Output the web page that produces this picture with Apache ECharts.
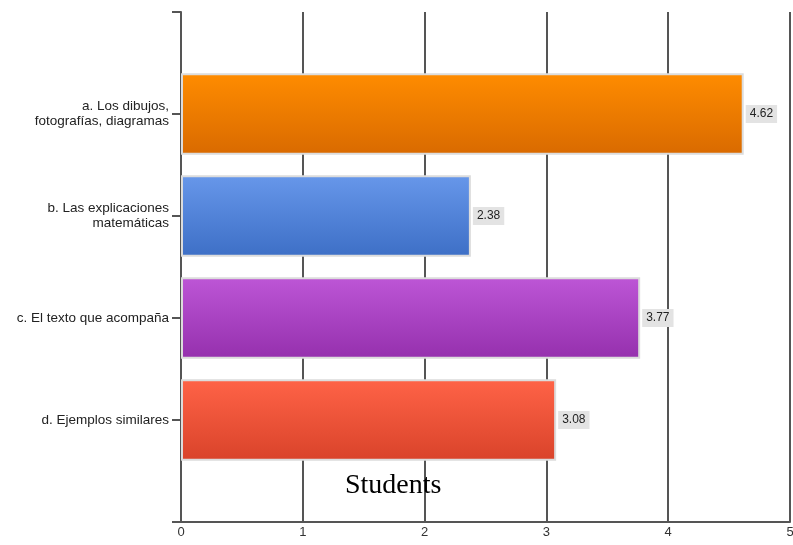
<!DOCTYPE html>
<html>
<head>
<meta charset="utf-8">
<script src="https://cdn.jsdelivr.net/npm/echarts@6/dist/echarts.min.js"></script>
<style>html,body{margin:0;padding:0;background:#fff}#c{width:793px;height:545px}</style>
</head>
<body>
<div id="c"></div>
<script>
var categories = ['a. Los dibujos,\nfotografías, diagramas', 'b. Las explicaciones\nmatemáticas', 'c. El texto que acompaña', 'd. Ejemplos similares'];
var values = [4.62, 2.38, 3.77, 3.08];
var xTicks = [0, 1, 2, 3, 4, 5];
var topColors = ['#ff8c00', '#6797ea', '#bd56d6', '#ff6347'];
var bottomColors = ['#d96a00', '#3d6fc6', '#9530ad', '#d9432a'];
var titleText = 'Students';

var yCats = [''].concat(categories).concat(['']);
var seriesData = [null];
values.forEach(function (v, i) {
  seriesData.push({
    value: v,
    itemStyle: {
      color: new echarts.graphic.LinearGradient(0, 0, 0, 1, [
        { offset: 0, color: topColors[i] },
        { offset: 1, color: bottomColors[i] }
      ])
    }
  });
});
seriesData.push(null);

var chart = echarts.init(document.getElementById('c'), null, { renderer: 'canvas' });
chart.setOption({
  animation: false,
  backgroundColor: '#fff',
  title: {
    text: titleText,
    left: 340,
    top: 467,
    textStyle: { fontFamily: 'Liberation Serif', fontWeight: 'normal', fontSize: 28, color: '#000' }
  },
  grid: { left: 181, right: 3, top: 12, bottom: 23, containLabel: false, outerBoundsMode: 'none' },
  xAxis: {
    type: 'value',
    min: xTicks[0],
    max: xTicks[xTicks.length - 1],
    interval: 1,
    axisLine: { show: true, lineStyle: { color: '#555', width: 2 } },
    axisTick: { show: false },
    axisLabel: { color: '#333', fontSize: 13, fontFamily: 'Liberation Sans', margin: 4 },
    splitLine: { show: true, lineStyle: { color: '#555', width: 2 } }
  },
  yAxis: {
    type: 'category',
    inverse: true,
    boundaryGap: false,
    data: yCats,
    axisLine: { show: true, lineStyle: { color: '#555', width: 2 } },
    axisTick: { show: true, length: 9, lineStyle: { color: '#555', width: 2 } },
    axisLabel: { color: '#222', fontSize: 13.5, fontFamily: 'Liberation Sans', margin: 12, lineHeight: 15, align: 'right' },
    splitLine: { show: false }
  },
  series: [{
    type: 'bar',
    data: seriesData,
    barWidth: '80%',
    itemStyle: { borderColor: '#dcdcdc', borderWidth: 2 },
    label: {
      show: true,
      position: 'right',
      distance: 2,
      backgroundColor: '#e3e3e3',
      padding: [3, 4, 3, 4],
      fontSize: 12,
      fontFamily: 'Liberation Sans',
      color: '#222'
    }
  }]
});
</script>
</body>
</html>
